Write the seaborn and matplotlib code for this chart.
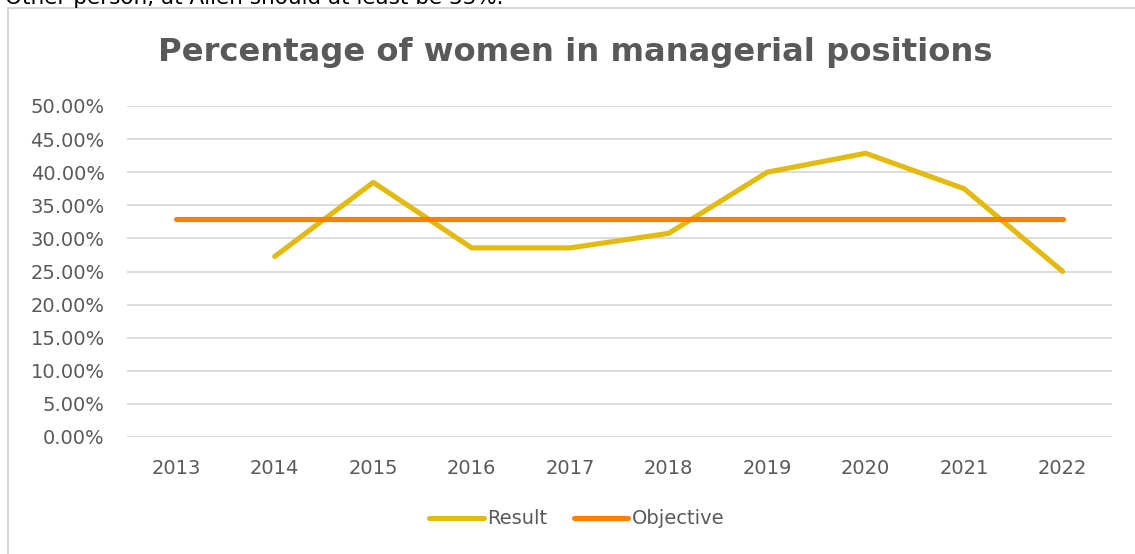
import numpy as np
import pandas as pd
import matplotlib
matplotlib.use("Agg")
import matplotlib.pyplot as plt
import seaborn as sns
from matplotlib.ticker import FuncFormatter
from matplotlib.patches import Rectangle
from matplotlib.lines import Line2D

years = ["2013", "2014", "2015", "2016", "2017", "2018", "2019", "2020", "2021", "2022"]
result = [np.nan, 0.2727, 0.3846, 0.2857, 0.2857, 0.3077, 0.40, 0.4286, 0.375, 0.25]
objective = [0.33] * 10
title = "Percentage of women in managerial positions"

sns.set_theme(style="white")
plt.rcParams['font.family'] = ['DejaVu Sans']

df = pd.DataFrame({
    "Year": years * 2,
    "Value": result + objective,
    "Series": ["Result"] * 10 + ["Objective"] * 10,
})

W, H = 1135, 554
fig = plt.figure(figsize=(W / 100, H / 100), dpi=100)
ax = fig.add_axes([127 / W, 1 - 437 / H, (1112 - 127) / W, (437 - 106) / H])

# chart border box
fig.patches.append(Rectangle((8 / W, -0.05), 1.2, 1 - 8 / H + 0.05, transform=fig.transFigure,
                             fill=False, edgecolor="#D0D0D0", linewidth=1.2))
# text from the page above, clipped by the top edge as in the reference
fig.text(5 / W, 1 - 4 / H, "Other person, at Allen should at least be 33%.", fontsize=15.5,
         color="#000000", va="baseline", ha="left")

palette = {"Result": "#E3BA10", "Objective": "#FF7F00"}
sns.lineplot(data=df, x="Year", y="Value", hue="Series", palette=palette, ax=ax,
             linewidth=3.7, sort=False, legend=False, solid_capstyle="round")

ax.set_xlim(-0.5, 9.5)
ax.set_ylim(0, 0.5)
ax.set_yticks(np.arange(0, 0.501, 0.05))
ax.yaxis.set_major_formatter(FuncFormatter(lambda v, p: f"{v*100:.2f}%"))
ax.grid(axis="y", color="#D9D9D9", linewidth=1.3)
ax.set_axisbelow(True)
for s in ax.spines.values():
    s.set_visible(False)
ax.tick_params(axis="both", length=0, labelsize=14, colors="#595959")
ax.tick_params(axis="y", pad=16)
ax.tick_params(axis="x", pad=16)
ax.set_xlabel("")
ax.set_ylabel("")

fig.text(575 / W, 1 - 52 / H, title, fontsize=23.2, fontweight="bold", color="#595959",
         ha="center", va="center")

handles = [Line2D([], [], color=palette["Result"], linewidth=3.7, solid_capstyle="round"),
           Line2D([], [], color=palette["Objective"], linewidth=3.7, solid_capstyle="round")]
fig.legend(handles, ["Result", "Objective"], loc="center", bbox_to_anchor=(577 / W, 1 - 519 / H),
           ncol=2, frameon=False, fontsize=14, labelcolor="#595959", handlelength=2.8,
           handletextpad=0.2, columnspacing=1.35)

fig.savefig("out.png", dpi=100)
